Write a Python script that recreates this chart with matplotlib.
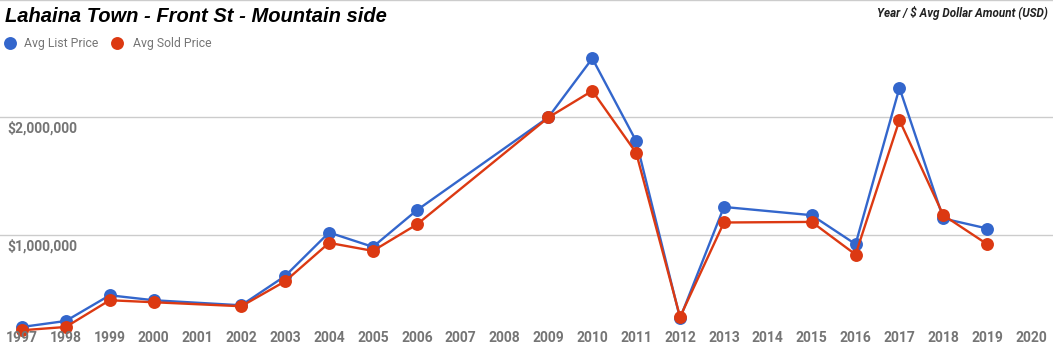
import matplotlib
matplotlib.use("Agg")
import matplotlib.pyplot as plt
from matplotlib.lines import Line2D

years = [1997, 1998, 1999, 2000, 2002, 2003, 2004, 2005, 2006, 2009, 2010,
         2011, 2012, 2013, 2015, 2016, 2017, 2018, 2019]
avg_list = [221000, 272000, 490000, 448000, 405000, 654000, 1023000, 901000,
            1212000, 2002000, 2501000, 1799000, 295000, 1240000, 1170000,
            924000, 2251000, 1142000, 1057000]
avg_sold = [193000, 221000, 448000, 431000, 397000, 609000, 935000, 867000,
            1091000, 2000000, 2226000, 1699000, 306000, 1108000, 1113000,
            836000, 1977000, 1170000, 924000]
tick_years = list(range(1997, 2021))
y_ticks = [1000000, 2000000]
y_labels = ["$1,000,000", "$2,000,000"]
series_names = ["Avg List Price", "Avg Sold Price"]
colors = ["#3366CC", "#DC3912"]

W, H, DPI = 1053, 353, 100
fig = plt.figure(figsize=(W / DPI, H / DPI), dpi=DPI)
ax = fig.add_axes([0, 0, 1, 1])
ax.set_xlim(1996.5, 2020.5)
ax.set_ylim(0, 2997000)
for s in ax.spines.values():
    s.set_visible(False)
ax.set_xticks([])
ax.set_yticks([])

for gy in y_ticks + [2997000]:
    ax.axhline(gy, color="#cccccc", lw=1.0, zorder=0)

for vals, c in zip([avg_list, avg_sold], colors):
    ax.plot(years, vals, color=c, lw=1.7, marker="o", markersize=9.3,
            markeredgewidth=0, zorder=3, solid_joinstyle="round")

gray = "#757575"
# x tick labels (inside plot area near bottom, drawn over the marks)
for yr in tick_years:
    ax.text(yr, 1 - 338 / H, str(yr), transform=ax.get_xaxis_transform(),
            ha="center", va="center", fontsize=10, fontweight="bold",
            color=gray, family="Roboto", zorder=5)

# y labels
for v, lab in zip(y_ticks, y_labels):
    ypx = 352.7 - v / 1e6 * 117.7
    fig.text(7 / W, 1 - (ypx + 11) / H, lab, ha="left", va="center",
             fontsize=10, fontweight="bold", color=gray, family="Roboto")

# title
fig.text(5 / W, 1 - 16 / H, "Lahaina Town - Front St - Mountain side",
         ha="left", va="center", fontsize=14.5, fontweight="bold",
         style="italic", color="black", family="Liberation Sans")
fig.text(1048 / W, 1 - 12.5 / H, "Year / $ Avg Dollar Amount (USD)",
         ha="right", va="center", fontsize=8.4, fontweight="bold",
         style="italic", color="#222222", family="Roboto")

# legend
leg_x = [10, 117]
txt_x = [24, 133]
for name, c, lx, tx in zip(series_names, colors, leg_x, txt_x):
    fig.add_artist(Line2D([lx / W], [1 - 43 / H], marker="o", color=c,
                          markersize=9.3, markeredgewidth=0,
                          transform=fig.transFigure))
    fig.text(tx / W, 1 - 43 / H, name, ha="left", va="center", fontsize=8.8,
             color=gray, family="Roboto")

fig.savefig("out.png", dpi=DPI)
